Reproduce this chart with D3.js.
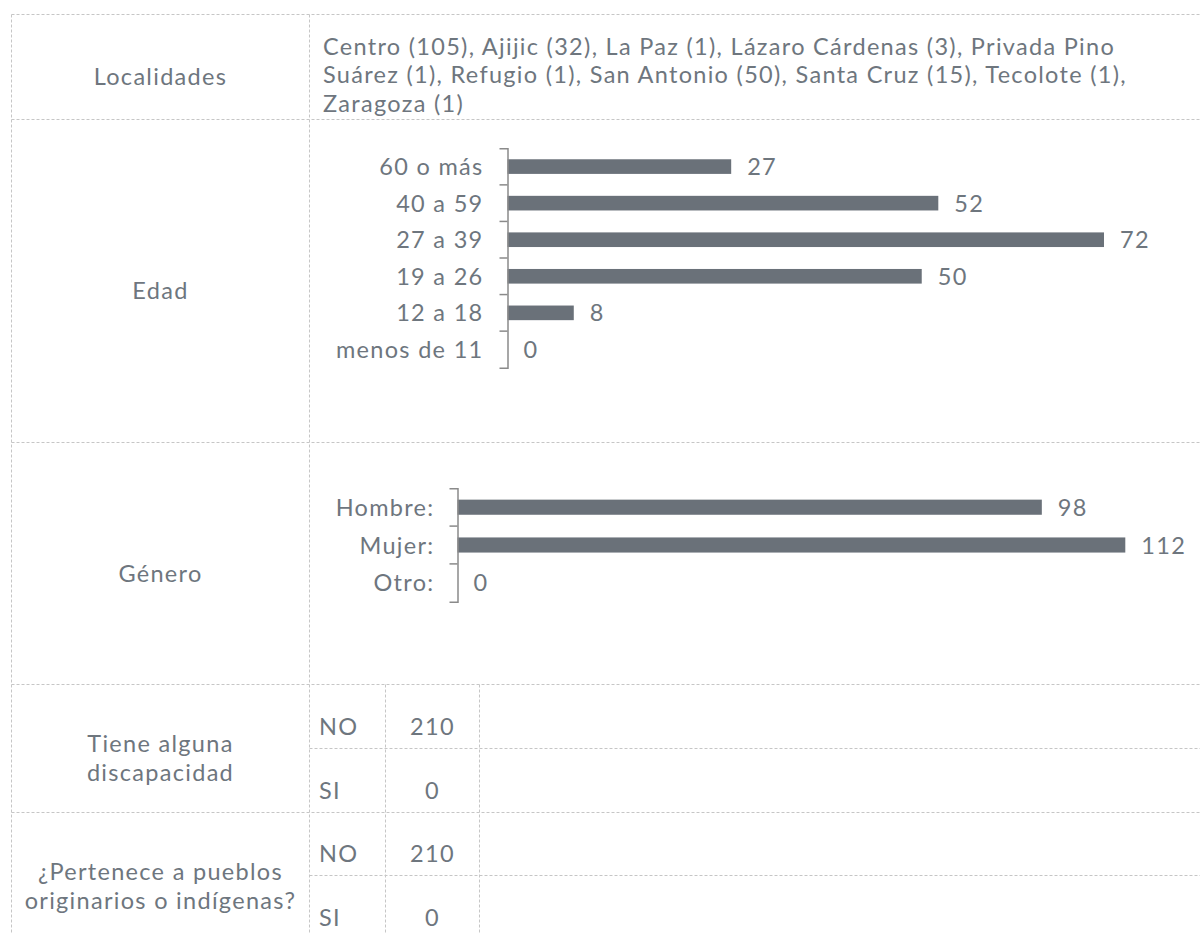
<!DOCTYPE html>
<html>
<head>
<meta charset="utf-8">
<script src="https://cdn.jsdelivr.net/npm/d3@7"></script>
<style>
  body { margin: 0; background: #fff; }
  svg text { font-family: Lato, "Open Sans", sans-serif; font-size: 23.5px; font-weight: 400; letter-spacing: 1.3px; fill: #6e767e; }
</style>
</head>
<body>
<div id="chart"></div>
<script>
// data
const localidadNames = ["Centro", "Ajijic", "La Paz", "Lázaro Cárdenas", "Privada Pino Suárez",
    "Refugio", "San Antonio", "Santa Cruz", "Tecolote", "Zaragoza"];
const localidadCounts = [105, 32, 1, 3, 1, 1, 50, 15, 1, 1];

const edadCats = ["60 o más", "40 a 59", "27 a 39", "19 a 26", "12 a 18", "menos de 11"];
const edadVals = [27, 52, 72, 50, 8, 0];

const generoCats = ["Hombre:", "Mujer:", "Otro:"];
const generoVals = [98, 112, 0];

const siNoCats = ["NO", "SI"];
const discapacidadVals = [210, 0];
const pueblosVals = [210, 0];

const rowLabels = ["Localidades", "Edad", "Género", "Tiene alguna\ndiscapacidad",
    "¿Pertenece a pueblos\noriginarios o indígenas?"];

const W = 1200, H = 933;
const barColor = "#6a7179";
const gridColor = "#c6c6c6";
const axisColor = "#8a8a8a";

// table layout
const tableLeft = 11.5, tableTop = 14.5, colX = 309.5;
const rowY = [tableTop, 119.5, 442.5, 684.5, 812.5, 940.5];
const subRowY = [748.5, 875.5];
const subColX = [385.5, 479.5];

const svg = d3.select("#chart").append("svg")
    .attr("width", W)
    .attr("height", H);

const grid = svg.append("g")
    .attr("fill", "none")
    .attr("stroke", gridColor)
    .attr("stroke-width", 1)
    .attr("stroke-dasharray", "3,2");

grid.selectAll("line.row").data(rowY.slice(0, 5)).enter().append("line")
    .attr("x1", tableLeft).attr("x2", W)
    .attr("y1", d => d).attr("y2", d => d);
grid.selectAll("line.sub").data(subRowY).enter().append("line")
    .attr("x1", colX).attr("x2", W)
    .attr("y1", d => d).attr("y2", d => d);
grid.selectAll("line.col").data([tableLeft, colX]).enter().append("line")
    .attr("x1", d => d).attr("x2", d => d)
    .attr("y1", tableTop).attr("y2", H);
grid.selectAll("line.subcol").data(subColX).enter().append("line")
    .attr("x1", d => d).attr("x2", d => d)
    .attr("y1", rowY[3]).attr("y2", H);

// row labels in the first column
const labelX = (tableLeft + colX) / 2;
rowLabels.forEach((lab, i) => {
    const cy = (rowY[i] + rowY[i + 1]) / 2;
    const lines = lab.split("\n");
    const t = svg.append("text")
        .attr("text-anchor", "middle")
        .attr("x", labelX);
    lines.forEach((ln, j) => {
        t.append("tspan")
            .attr("x", labelX)
            .attr("y", cy + 18 + (j - (lines.length - 1) / 2) * 28.5)
            .text(ln);
    });
});

// localidades text, wrapped to the cell
const locText = localidadNames.map((n, i) => `${n} (${localidadCounts[i]})`).join(", ");
const locX = 323, locMax = 1175 - locX;
const measure = svg.append("text").attr("visibility", "hidden");
const words = locText.split(" ");
const locLines = [];
let cur = "";
words.forEach(w => {
    const test = cur ? cur + " " + w : w;
    measure.text(test);
    if (measure.node().getComputedTextLength() > locMax && cur) {
        locLines.push(cur);
        cur = w;
    } else {
        cur = test;
    }
});
locLines.push(cur);
measure.remove();

svg.append("text").selectAll("tspan").data(locLines).enter().append("tspan")
    .attr("x", locX)
    .attr("y", (d, i) => 55 + i * 28.3)
    .text(d => d);

// horizontal bar chart with excel-style bracket axis
function barChart(cats, vals, axisX, y0, y1, xEnd, labelGap) {
    const y = d3.scaleBand().domain(cats).range([y0, y1]).padding(0);
    const x = d3.scaleLinear().domain([0, d3.max(vals)]).range([axisX, xEnd]);
    const g = svg.append("g");
    const data = cats.map((c, i) => ({ c, v: vals[i] }));
    const bh = y.step() * 0.4;

    g.selectAll("rect").data(data).enter().append("rect")
        .attr("x", axisX)
        .attr("y", d => y(d.c) + (y.step() - bh) / 2)
        .attr("width", d => x(d.v) - axisX)
        .attr("height", bh)
        .attr("fill", barColor);

    const ax = g.append("g")
        .attr("transform", `translate(${axisX},0)`)
        .call(d3.axisLeft(y).tickSize(0).tickSizeOuter(8).tickPadding(labelGap));
    ax.select(".domain").attr("stroke", axisColor).attr("stroke-width", 1.5);
    ax.selectAll("text")
        .attr("font-family", null).attr("font-size", null)
        .attr("fill", null)
        .attr("dy", null)
        .attr("y", 8.5);

    // tick marks between categories
    ax.selectAll("line.sep").data(cats.slice(1)).enter().append("line")
        .attr("class", "sep")
        .attr("x1", -8).attr("x2", 0)
        .attr("y1", d => y(d)).attr("y2", d => y(d))
        .attr("stroke", axisColor).attr("stroke-width", 1.5);

    g.selectAll("text.val").data(data).enter().append("text")
        .attr("class", "val")
        .attr("x", d => x(d.v) + 16)
        .attr("y", d => y(d.c) + y.step() / 2 + 8.5)
        .text(d => d.v);
}

barChart(edadCats, edadVals, 507.5, 148.3, 367.7, 1104, 24);
barChart(generoCats, generoVals, 457.5, 488.3, 601.7, 1125.3, 23);

// si / no sub tables
function siNo(vals, yTop, yMid) {
    const rows = [yTop, yMid, yTop + 128];
    siNoCats.forEach((c, i) => {
        const cy = (rows[i] + rows[i + 1]) / 2;
        svg.append("text")
            .attr("x", 319)
            .attr("y", cy + 18)
            .text(c);
        svg.append("text")
            .attr("x", (subColX[0] + subColX[1]) / 2)
            .attr("y", cy + 18)
            .attr("text-anchor", "middle")
            .text(vals[i]);
    });
}
siNo(discapacidadVals, rowY[3], subRowY[0]);
siNo(pueblosVals, rowY[4], subRowY[1]);
</script>
</body>
</html>
